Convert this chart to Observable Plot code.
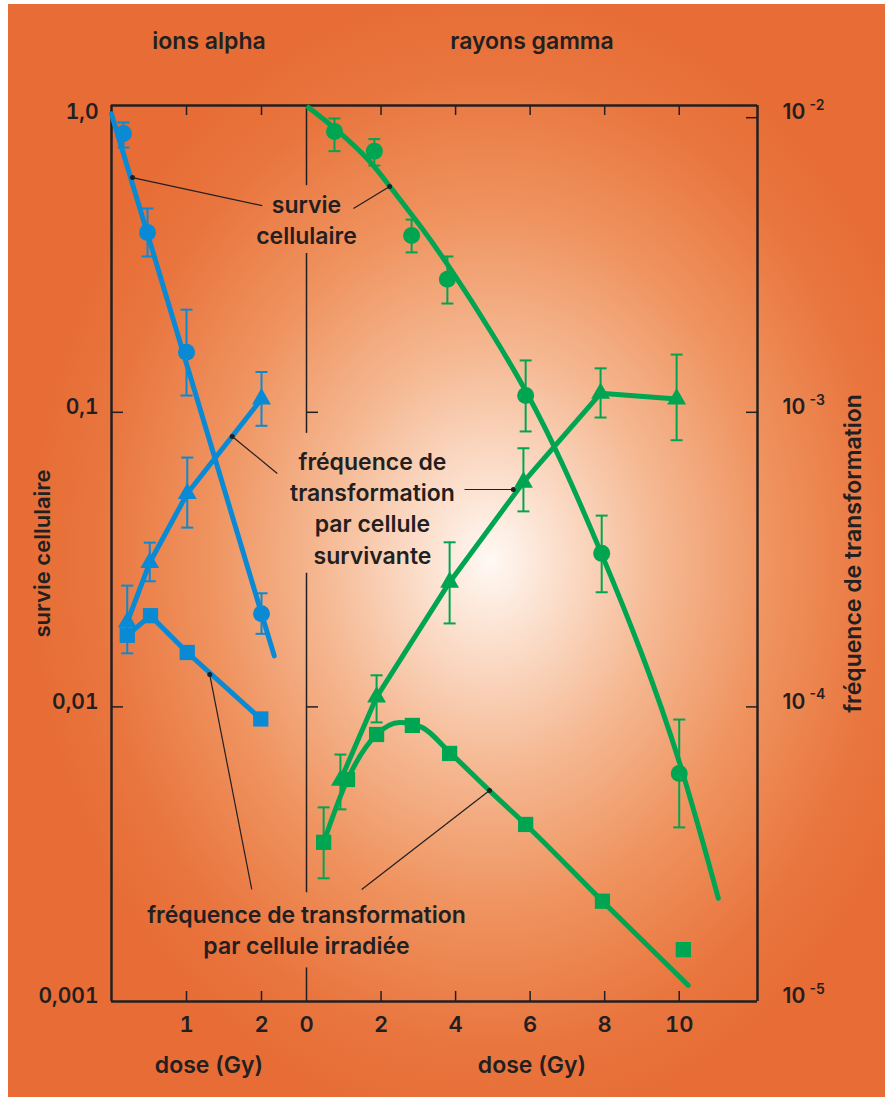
<!DOCTYPE html>
<html><head><meta charset="utf-8">
<script src="https://cdn.jsdelivr.net/npm/d3@7"></script>
<script src="https://cdn.jsdelivr.net/npm/@observablehq/plot@0.6"></script>
<style>
html,body{margin:0;padding:0;background:#fff;}
#wrap{position:relative;width:891px;height:1097px;overflow:hidden;}
#bg{position:absolute;left:8px;top:4px;width:877px;height:1093px;
 background: radial-gradient(ellipse 470px 580px at 482px 556px, #fff9f4 0%, #fbdcc8 16%, #f5b892 36%, #ef935f 60%, #e9753e 84%, #e76c35 100%);}
#wrap svg{position:absolute;left:0;top:0;}
</style></head><body><div id="wrap"><div id="bg"></div></div>
<script>
// ---------- data ----------
// y values: survival on the left axis; transformation frequencies on the right axis (right = left x 0.01)
const leftTicks = [1, 0.1, 0.01, 0.001];
const leftTickLabels = ["1,0", "0,1", "0,01", "0,001"];
const rightTickExp = ["-2", "-3", "-4", "-5"];
const alphaXTicks = [1, 2];
const gammaXTicks = [0, 2, 4, 6, 8, 10];

// ions alpha
const alphaDoseSurv = [0.16, 0.48, 1.0, 2.0];
const alphaSurv     = [0.884, 0.408, 0.160, 0.0207];
const alphaSurvLo   = [0.792, 0.338, 0.114, 0.0177];
const alphaSurvHi   = [0.963, 0.492, 0.223, 0.0243];
const alphaFitDose  = [0, 2.17];
const alphaFitSurv  = [1.03, 0.0149];

const alphaDoseTrS  = [0.21, 0.51, 1.01, 2.0];
const alphaTrSurv   = [1.94e-4, 3.09e-4, 5.30e-4, 1.11e-3];
const alphaTrSurvLo = [1.52e-4, 2.67e-4, 4.06e-4, 9.0e-4];
const alphaTrSurvHi = [2.58e-4, 3.61e-4, 7.02e-4, 1.37e-3];

const alphaDoseTrI  = [0.21, 0.52, 1.01, 1.99];
const alphaTrIrr    = [1.75e-4, 2.04e-4, 1.53e-4, 9.1e-5];

// rayons gamma
const gammaDoseSurv = [0.75, 1.82, 2.82, 3.78, 5.88, 7.92, 10.0];
const gammaSurv     = [0.897, 0.770, 0.398, 0.283, 0.114, 0.0332, 0.00594];
const gammaSurvLo   = [0.770, 0.688, 0.349, 0.234, 0.0861, 0.0245, 0.0039];
const gammaSurvHi   = [0.994, 0.846, 0.451, 0.338, 0.150, 0.0446, 0.00906];
const gammaFitDose  = [0.054, 0.75, 1.72, 2.23, 3.14, 3.94, 4.94, 5.93, 6.82, 7.92, 8.96, 10.01, 11.05];
const gammaFitSurv  = [1.083, 0.926, 0.716, 0.584, 0.417, 0.298, 0.1895, 0.1167, 0.0697, 0.0332, 0.0158, 0.00673, 0.00224];

const gammaDoseTrS  = [0.91, 1.88, 3.84, 5.82, 7.89, 9.93];
const gammaTrSurv   = [5.63e-5, 1.08e-4, 2.65e-4, 5.79e-4, 1.16e-3, 1.11e-3];
const gammaTrSurvLo = [4.49e-5, 8.86e-5, 1.92e-4, 4.61e-4, 9.6e-4, 8.04e-4];
const gammaTrSurvHi = [6.89e-5, 1.28e-4, 3.62e-4, 7.55e-4, 1.41e-3, 1.57e-3];

const gammaDoseTrI  = [0.46, 1.10, 1.88, 2.84, 3.84, 5.88, 7.94, 10.11];
const gammaTrIrr    = [3.47e-5, 5.67e-5, 8.06e-5, 8.65e-5, 6.95e-5, 3.99e-5, 2.19e-5, 1.50e-5];
const gammaTrIrrErrDose = [0.46];
const gammaTrIrrLo  = [2.62e-5];
const gammaTrIrrHi  = [4.56e-5];
const gammaTrIrrFitDose = [0.46, 1.10, 1.88, 2.5, 3.1, 3.84, 4.91, 5.88, 7.94, 10.24];
const gammaTrIrrFit     = [3.47e-5, 5.67e-5, 8.06e-5, 8.86e-5, 8.52e-5, 7.01e-5, 5.2e-5, 3.99e-5, 2.19e-5, 1.135e-5];

// annotations (dose, left-axis value)
const alphaLeadX1 = [0.28, 1.61, 1.31];
const alphaLeadY1 = [0.626, 0.0828, 0.01288];
const alphaLeadX2 = [2.01, 2.21, 1.87];
const alphaLeadY2 = [0.503, 0.062, 0.0024];
const gammaLeadX1 = [2.23, 5.55, 4.91];
const gammaLeadY1 = [0.584, 0.0547, 0.0052];
const gammaLeadX2 = [1.26, 4.24, 1.48];
const gammaLeadY2 = [0.492, 0.0547, 0.0024];
const noteText  = ["survie\ncellulaire", "fréquence de\ntransformation\npar cellule\nsurvivante", "fréquence de transformation\npar cellule irradiée"];
const noteDose  = [0, 1.77, 0];
const noteValue = [0.453, 0.0477, 0.00177];
const dividerTop    = [1.1, 0.346, 0.0284, 0.0013];
const dividerBottom = [0.588, 0.0848, 0.00234, 0.001];

// ---------- drawing ----------
const RIGHT_TO_LEFT = 100;
const W = 891, H = 1097, MT = 105, MB = 96;
const ink = "#231f20", blue = "#0a8ad4", green = "#00a551";
const font = "Inter, 'DejaVu Sans', sans-serif";
const Y = {type: "log", domain: [0.001, 1.1]};

const zip = (xs, cols) => xs.map((d, i) => { const o = {d}; for (const k in cols) o[k] = cols[k][i]; return o; });
const capSymbol = {draw(ctx) { ctx.moveTo(-6, 0); ctx.lineTo(6, 0); }};
function errorBars(rows, color, k) {
  return [
    Plot.ruleX(rows, {x: "d", y1: r => r.lo * k, y2: r => r.hi * k, stroke: color, strokeWidth: 2}),
    Plot.dot(rows, {x: "d", y: r => r.lo * k, symbol: capSymbol, r: 5, fill: "none", stroke: color, strokeWidth: 2}),
    Plot.dot(rows, {x: "d", y: r => r.hi * k, symbol: capSymbol, r: 5, fill: "none", stroke: color, strokeWidth: 2})
  ];
}
const txt = {fill: ink, fontFamily: font, fontWeight: 600};

const aSurv = zip(alphaDoseSurv, {v: alphaSurv, lo: alphaSurvLo, hi: alphaSurvHi});
const aFit = zip(alphaFitDose, {v: alphaFitSurv});
const aTrS = zip(alphaDoseTrS, {v: alphaTrSurv, lo: alphaTrSurvLo, hi: alphaTrSurvHi});
const aTrI = zip(alphaDoseTrI, {v: alphaTrIrr});
const aLead = zip(alphaLeadX1, {y1: alphaLeadY1, x2: alphaLeadX2, y2: alphaLeadY2});

const gSurv = zip(gammaDoseSurv, {v: gammaSurv, lo: gammaSurvLo, hi: gammaSurvHi});
const gFit = zip(gammaFitDose, {v: gammaFitSurv});
const gTrS = zip(gammaDoseTrS, {v: gammaTrSurv, lo: gammaTrSurvLo, hi: gammaTrSurvHi});
const gTrI = zip(gammaDoseTrI, {v: gammaTrIrr});
const gTrIErr = zip(gammaTrIrrErrDose, {lo: gammaTrIrrLo, hi: gammaTrIrrHi});
const gTrIFit = zip(gammaTrIrrFitDose, {v: gammaTrIrrFit});
const gLead = zip(gammaLeadX1, {y1: gammaLeadY1, x2: gammaLeadX2, y2: gammaLeadY2});
const notes = zip(noteDose, {v: noteValue, t: noteText});
const divider = zip(dividerTop, {b: dividerBottom});

const leftPlot = Plot.plot({
  width: W, height: H, marginLeft: 111, marginRight: 585, marginTop: MT, marginBottom: MB,
  x: {domain: [0, 2.6]}, y: Y,
  style: {background: "transparent", fontFamily: font, color: ink},
  marks: [
    Plot.ruleX([0], {stroke: ink, strokeWidth: 2.5}),
    Plot.ruleY(Y.domain, {stroke: ink, strokeWidth: 2.5}),
    Plot.axisX(alphaXTicks, {anchor: "bottom", tickSize: -10, fill: "none", stroke: ink, strokeWidth: 1.5, label: null}),
    Plot.axisX(alphaXTicks, {anchor: "top", tickSize: -9, fill: "none", stroke: ink, strokeWidth: 1.5, label: null}),
    Plot.axisX(alphaXTicks, {anchor: "bottom", tickSize: 0, tickPadding: 15, fontSize: 22, ...txt, label: null}),
    Plot.axisY(leftTicks.slice(1, 3), {anchor: "left", tickSize: -12, fill: "none", stroke: ink, strokeWidth: 1.5, label: null}),
    Plot.axisY(leftTicks, {anchor: "left", tickSize: 0, tickPadding: 13, dy: -5, fontSize: 21, ...txt,
      tickFormat: d => leftTickLabels[leftTicks.indexOf(d)], label: null}),
    Plot.text(["ions alpha"], {frameAnchor: "top", dy: -73, fontSize: 23, ...txt}),
    Plot.text(["dose (Gy)"], {frameAnchor: "bottom", dy: 71, fontSize: 23, ...txt}),
    Plot.text(["survie cellulaire"], {frameAnchor: "left", textAnchor: "middle", dx: -69, rotate: -90, fontSize: 22, ...txt}),
    // leaders
    Plot.link(aLead, {x1: "d", y1: "y1", x2: "x2", y2: "y2", stroke: ink, strokeWidth: 1.2}),
    // series
    Plot.line(aFit, {x: "d", y: "v", stroke: blue, strokeWidth: 5}),
    Plot.line(aTrS, {x: "d", y: r => r.v * RIGHT_TO_LEFT, stroke: blue, strokeWidth: 5}),
    Plot.line(aTrI, {x: "d", y: r => r.v * RIGHT_TO_LEFT, stroke: blue, strokeWidth: 5}),
    ...errorBars(aSurv, blue, 1),
    ...errorBars(aTrS, blue, RIGHT_TO_LEFT),
    Plot.dot(aSurv, {x: "d", y: "v", r: 8.5, symbol: "circle", fill: blue}),
    Plot.dot(aTrS, {x: "d", y: r => r.v * RIGHT_TO_LEFT, r: 7, symbol: "triangle", fill: blue}),
    Plot.dot(aTrI, {x: "d", y: r => r.v * RIGHT_TO_LEFT, r: 8.6, symbol: "square", fill: blue}),
    Plot.dot(aLead, {x: "d", y: "y1", r: 2.5, fill: ink})
  ]
});

const rightPlot = Plot.plot({
  width: W, height: H, marginLeft: 306, marginRight: 134, marginTop: MT, marginBottom: MB,
  x: {domain: [0, 12.1]}, y: Y,
  style: {background: "transparent", fontFamily: font, color: ink},
  marks: [
    Plot.ruleX([12.1], {stroke: ink, strokeWidth: 2.5}),
    Plot.ruleY(Y.domain, {stroke: ink, strokeWidth: 2.5}),
    Plot.ruleX(divider, {x: 0, y1: "d", y2: "b", stroke: ink, strokeWidth: 1.5}),
    Plot.axisX(gammaXTicks.slice(1), {anchor: "bottom", tickSize: -10, fill: "none", stroke: ink, strokeWidth: 1.5, label: null}),
    Plot.axisX(gammaXTicks.slice(1), {anchor: "top", tickSize: -9, fill: "none", stroke: ink, strokeWidth: 1.5, label: null}),
    Plot.axisX(gammaXTicks, {anchor: "bottom", tickSize: 0, tickPadding: 15, fontSize: 22, ...txt, label: null}),
    Plot.axisY(leftTicks.slice(0, 3), {anchor: "right", tickSize: -12, fill: "none", stroke: ink, strokeWidth: 1.5, label: null}),
    Plot.axisY(leftTicks.slice(1, 3), {anchor: "left", tickSize: -12, fill: "none", stroke: ink, strokeWidth: 1.5, label: null}),
    Plot.text(leftTicks, {y: d => d, text: () => "10", frameAnchor: "right", textAnchor: "start", dx: 25, dy: -5, fontSize: 21, ...txt}),
    Plot.text(leftTicks, {y: d => d, text: d => rightTickExp[leftTicks.indexOf(d)], frameAnchor: "right", textAnchor: "start", dx: 52, dy: -12, fontSize: 14, ...txt}),
    Plot.text(["rayons gamma"], {frameAnchor: "top", dy: -73, fontSize: 23, ...txt}),
    Plot.text(["dose (Gy)"], {frameAnchor: "bottom", dy: 71, fontSize: 23, ...txt}),
    Plot.text(["fréquence de transformation"], {frameAnchor: "right", textAnchor: "middle", dx: 96, rotate: -90, fontSize: 23, ...txt}),
    // leaders and notes
    Plot.link(gLead, {x1: "d", y1: "y1", x2: "x2", y2: "y2", stroke: ink, strokeWidth: 1.2}),
    Plot.text(notes, {x: "d", y: "v", text: "t", fontSize: 23, lineHeight: 1.35, ...txt}),
    // series
    Plot.line(gFit, {x: "d", y: "v", stroke: green, strokeWidth: 5, curve: "basis"}),
    Plot.line(gTrS, {x: "d", y: r => r.v * RIGHT_TO_LEFT, stroke: green, strokeWidth: 5}),
    Plot.line(gTrIFit, {x: "d", y: r => r.v * RIGHT_TO_LEFT, stroke: green, strokeWidth: 5, curve: "monotone-x"}),
    ...errorBars(gSurv, green, 1),
    ...errorBars(gTrS, green, RIGHT_TO_LEFT),
    ...errorBars(gTrIErr, green, RIGHT_TO_LEFT),
    Plot.dot(gSurv, {x: "d", y: "v", r: 8.5, symbol: "circle", fill: green}),
    Plot.dot(gTrS, {x: "d", y: r => r.v * RIGHT_TO_LEFT, r: 7, symbol: "triangle", fill: green}),
    Plot.dot(gTrI, {x: "d", y: r => r.v * RIGHT_TO_LEFT, r: 8.6, symbol: "square", fill: green}),
    Plot.dot(gLead, {x: "d", y: "y1", r: 2.5, fill: ink})
  ]
});

const wrap = document.getElementById("wrap");
wrap.appendChild(leftPlot);
wrap.appendChild(rightPlot);
</script></body></html>
